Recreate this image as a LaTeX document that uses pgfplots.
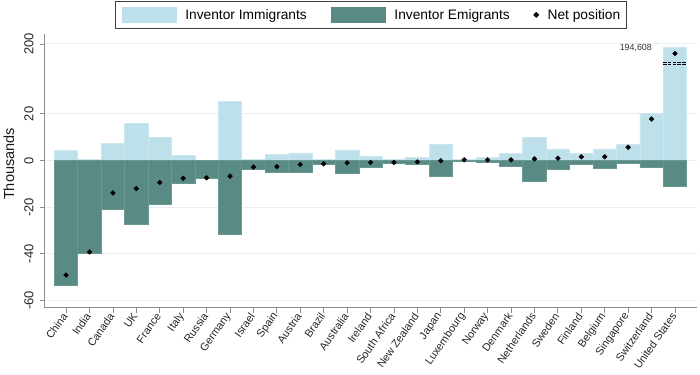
\documentclass[border=0pt]{standalone}
\usepackage{fontspec}
\setmainfont{Liberation Sans}
\usepackage{pgfplots}
\pgfplotsset{compat=1.18}
\usepackage{pgfplotstable}
\definecolor{immig}{HTML}{BEE0EA}
\definecolor{immigedge}{HTML}{CDE7EE}
\definecolor{emig}{HTML}{5A8A84}
\definecolor{emigedge}{HTML}{6A9892}
\definecolor{gridc}{HTML}{E6F0F2}
\definecolor{axisc}{HTML}{8C8C8C}

% values in thousands; United States immigrant bar is truncated (true value 194,608)
\pgfplotstableread{
idx imm emi net
0 4.5 -53.3 -49.1
1 0.6 -39.9 -39.2
2 7.5 -21.0 -13.9
3 15.8 -27.5 -12.0
4 9.9 -18.9 -9.4
5 2.1 -9.6 -7.6
6 0.2 -7.7 -7.4
7 25.5 -31.8 -6.7
8 0.6 -3.6 -2.8
9 2.7 -5.1 -2.6
10 3.3 -5.1 -1.7
11 0.5 -1.7 -1.4
12 4.6 -5.5 -1.0
13 2.0 -2.7 -0.8
14 0.6 -1.3 -0.8
15 1.3 -1.7 -0.6
16 6.9 -6.9 -0.1
17 0.5 -0.3 0.3
18 1.3 -0.9 0.3
19 2.9 -2.3 0.3
20 9.9 -9.0 0.7
21 5.0 -3.7 1.0
22 3.2 -1.4 1.6
23 5.0 -3.4 1.6
24 6.9 -1.0 5.7
25 20.3 -2.8 17.8
26 48.7 -11.0 45.9
}\datatable

\begin{document}
\begin{tikzpicture}
\path[use as bounding box] (-45bp,-67.5bp) rectangle (655bp,307.5bp);
\begin{axis}[
  at={(0,0)}, anchor=south west,
  scale only axis, width=652bp, height=273.4bp,
  xmin=-0.9, xmax=26.94, ymin=-63, ymax=54.2,
  axis lines=left,
  axis line style={-, draw=axisc, line width=1bp},
  tick align=outside,
  major tick length=5bp,
  tick style={draw=axisc, line width=0.8bp},
  xtick={0,...,26},
  xticklabels={China,India,Canada,UK,France,Italy,Russia,Germany,Israel,Spain,Austria,Brazil,Australia,Ireland,{South Africa},{New Zealand},Japan,Luxembourg,Norway,Denmark,Netherlands,Sweden,Finland,Belgium,Singapore,Switzerland,{United States}},
  xticklabel style={rotate=55, anchor=east, font=\fontsize{10.9}{11}\selectfont, text=black!85, inner sep=2bp},
  ytick={-60,-40,-20,0,20,50},
  yticklabels={-60,-40,-20,0,20,200},
  yticklabel shift=3bp,
  yticklabel style={rotate=90, anchor=south, font=\fontsize{13}{13}\selectfont, text=black!85},
  ymajorgrids,
  grid style={draw=gridc, line width=1bp},
  ylabel={Thousands},
  ylabel style={at={(axis description cs:-0.0552,0.525)}, anchor=center, font=\fontsize{14.6}{15}\selectfont, text=black!90},
  legend columns=3,
  legend style={at={(0.5,1)}, anchor=south, yshift=5bp, draw=black!75, line width=0.8bp,
    font=\fontsize{13.8}{14}\selectfont, inner xsep=6bp, inner ysep=6bp,
    nodes={inner sep=0pt, anchor=west},
    /tikz/every odd column/.append style={column sep=9bp},
    /tikz/every even column/.append style={column sep=24bp}},
]
\addplot[ybar, bar width=1, bar shift=0pt, fill=immig, draw=immigedge, line width=0.6bp,
  legend image code/.code={\fill[immig] (0bp,-7.5bp) rectangle (54bp,7.5bp);}]
  table[x=idx, y=imm]{\datatable};
\addlegendentry{Inventor Immigrants}
\addplot[ybar, bar width=1, bar shift=0pt, fill=emig, draw=emigedge, line width=0.6bp,
  legend image code/.code={\fill[emig] (0bp,-7.5bp) rectangle (54bp,7.5bp);}]
  table[x=idx, y=emi]{\datatable};
\addlegendentry{Inventor Emigrants}
\addplot[only marks, mark=square*, mark size=1.7bp, mark options={rotate=45}, black,
  legend image code/.code={\draw[black, mark=square*, mark size=1.7bp, mark options={rotate=45}, only marks] plot coordinates {(0bp,0bp)};}]
  table[x=idx, y=net]{\datatable};
\addlegendentry{Net position}
\node[anchor=east, font=\fontsize{8.9}{9}\selectfont, text=black!80, inner sep=0pt] at (axis cs:25.02,48.4) {194,608};
\draw[black, dash pattern=on 3.5bp off 1.3bp, line width=0.8bp] (axis cs:25.49,42.1) -- (axis cs:26.51,42.1);
\draw[black, dash pattern=on 3.5bp off 1.3bp, line width=0.8bp] (axis cs:25.49,41.1) -- (axis cs:26.51,41.1);
\end{axis}
\end{tikzpicture}
\end{document}
